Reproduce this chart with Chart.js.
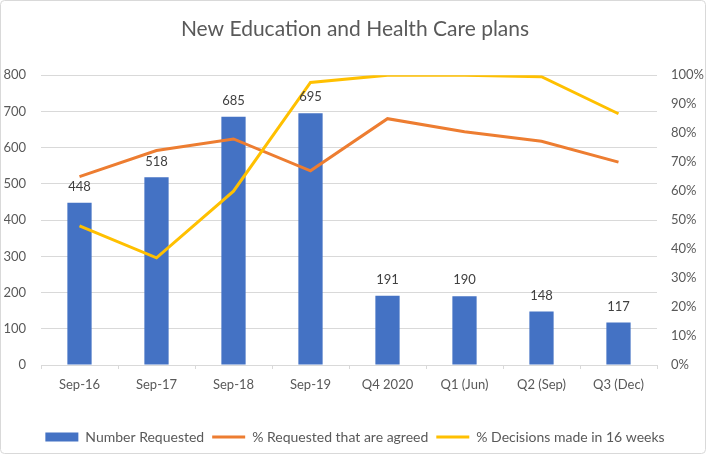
<!DOCTYPE html>
<html>
<head>
<meta charset="utf-8">
<script src="https://cdn.jsdelivr.net/npm/chart.js@4"></script>
<style>
  html, body { margin: 0; padding: 0; background: #fff; }
  #wrap { position: relative; width: 706px; height: 454px; }
</style>
</head>
<body>
<div id="wrap"><canvas id="myChart" width="706" height="454"></canvas></div>
<script>
const categories = ['Sep-16', 'Sep-17', 'Sep-18', 'Sep-19', 'Q4 2020', 'Q1 (Jun)', 'Q2 (Sep)', 'Q3 (Dec)'];
const numberRequested = [448, 518, 685, 695, 191, 190, 148, 117];
const pctAgreed = [0.65, 0.74, 0.78, 0.67, 0.85, 0.805, 0.772, 0.70];
const pctDecisions16 = [0.48, 0.37, 0.60, 0.975, 1.0, 1.0, 0.995, 0.867];

const FONT = 'Lato, "Open Sans", sans-serif';
const GREY = '#595959';

// white background + light frame like the office chart
const frame = {
  id: 'frame',
  beforeDraw(chart) {
    const ctx = chart.ctx;
    ctx.save();
    ctx.fillStyle = '#fff';
    ctx.fillRect(0, 0, chart.width, chart.height);
    ctx.strokeStyle = '#d9d9d9';
    ctx.lineWidth = 1;
    ctx.beginPath();
    ctx.roundRect(0.5, 0.5, chart.width - 1, chart.height - 1, 4);
    ctx.stroke();
    ctx.restore();
  }
};

// value labels above the bars
const barLabels = {
  id: 'barLabels',
  afterDatasetsDraw(chart) {
    const ctx = chart.ctx;
    const meta = chart.getDatasetMeta(0);
    ctx.save();
    ctx.font = '13px ' + FONT;
    ctx.fillStyle = '#404040';
    ctx.textAlign = 'center';
    ctx.textBaseline = 'middle';
    meta.data.forEach((bar, i) => {
      ctx.fillText(numberRequested[i], bar.x, bar.y - 16);
    });
    ctx.restore();
  }
};

new Chart(document.getElementById('myChart'), {
  data: {
    labels: categories,
    datasets: [
      {
        type: 'bar',
        label: 'Number Requested',
        data: numberRequested,
        backgroundColor: '#4472C4',
        borderWidth: 0,
        yAxisID: 'y',
        barPercentage: 0.315,
        categoryPercentage: 1,
        pointStyle: 'rect',
        order: 3
      },
      {
        type: 'line',
        label: '% Requested that are agreed',
        data: pctAgreed,
        borderColor: '#ED7D31',
        backgroundColor: '#ED7D31',
        borderWidth: 3,
        pointRadius: 0,
        tension: 0,
        yAxisID: 'y1',
        pointStyle: 'line',
        order: 2
      },
      {
        type: 'line',
        label: '% Decisions made in 16 weeks',
        data: pctDecisions16,
        borderColor: '#FFC000',
        backgroundColor: '#FFC000',
        borderWidth: 3,
        pointRadius: 0,
        tension: 0,
        yAxisID: 'y1',
        pointStyle: 'line',
        order: 1
      }
    ]
  },
  options: {
    responsive: false,
    animation: false,
    layout: { padding: { left: 4, right: 0, top: 10, bottom: 0 } },
    plugins: {
      title: {
        display: true,
        text: 'New Education and Health Care plans',
        color: GREY,
        font: { family: FONT, size: 21, weight: 'normal' },
        padding: { top: 7, bottom: 33 }
      },
      legend: {
        position: 'bottom',
        labels: {
          usePointStyle: true,
          pointStyleWidth: 33,
          boxHeight: 9,
          color: GREY,
          font: { family: FONT, size: 14 },
          padding: 8,
          sort: (a, b) => a.datasetIndex - b.datasetIndex
        }
      },
      tooltip: { enabled: false }
    },
    scales: {
      x: {
        grid: {
          display: true,
          drawOnChartArea: false,
          drawTicks: true,
          tickLength: 4,
          color: '#d9d9d9'
        },
        border: { color: '#d9d9d9' },
        ticks: { color: GREY, font: { family: FONT, size: 13 }, padding: 8, maxRotation: 0 },
        afterFit: s => { s.height = 57; }
      },
      y: {
        position: 'left',
        min: 0,
        max: 800,
        ticks: { stepSize: 100, color: GREY, font: { family: FONT, size: 13 }, padding: 15 },
        grid: { color: '#d9d9d9', drawTicks: false },
        border: { display: false },
        afterFit: s => { s.width = 37; }
      },
      y1: {
        position: 'right',
        min: 0,
        max: 1,
        ticks: {
          stepSize: 0.1,
          color: GREY,
          font: { family: FONT, size: 13 },
          padding: 14,
          callback: v => Math.round(v * 100) + '%'
        },
        grid: { drawOnChartArea: false, drawTicks: false },
        border: { display: false },
        afterFit: s => { s.width = 49; }
      }
    }
  },
  plugins: [frame, barLabels]
});
</script>
</body>
</html>
